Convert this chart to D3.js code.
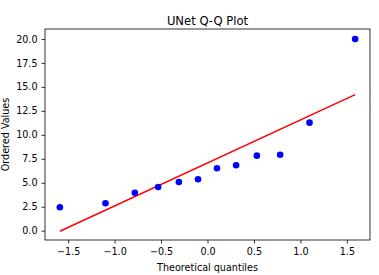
<!DOCTYPE html>
<html>
<head>
<meta charset="utf-8">
<script src="https://cdn.jsdelivr.net/npm/d3@7"></script>
<style>
    body { margin: 0; background: #fff; }
    svg { display: block; font-family: "DejaVu Sans", sans-serif; }
</style>
</head>
<body>
<div id="chart"></div>
<script>
// theoretical quantiles (x) and ordered values (y)
const quantiles = [-1.589, -1.098, -0.782, -0.531, -0.308, -0.102, 0.102, 0.308, 0.531, 0.782, 1.098, 1.589];
const ordered = [2.44, 2.86, 3.96, 4.56, 5.08, 5.36, 6.51, 6.82, 7.83, 7.93, 11.27, 20.0];
// least squares line end points
const fitX = [-1.589, 1.589];
const fitY = [-0.06, 14.19];
const xTicks = [-1.5, -1.0, -0.5, 0.0, 0.5, 1.0, 1.5];
const yTicks = [0.0, 2.5, 5.0, 7.5, 10.0, 12.5, 15.0, 17.5, 20.0];

const width = 379, height = 275;
const box = {left: 45, right: 370, top: 29, bottom: 240};

const svg = d3.select("#chart").append("svg")
    .attr("width", width)
    .attr("height", height);

const x = d3.scaleLinear().domain([-1.749, 1.749]).range([box.left, box.right]);
const y = d3.scaleLinear().domain([-0.97, 21.04]).range([box.bottom, box.top]);

const fmt = d3.format(".1f");

// axes
let xAxis = svg.append("g")
    .attr("transform", "translate(0," + box.bottom + ")")
    .call(d3.axisBottom(x).tickValues(xTicks).tickFormat(fmt).tickSize(3.5).tickPadding(4.8));
let yAxis = svg.append("g")
    .attr("transform", "translate(" + box.left + ",0)")
    .call(d3.axisLeft(y).tickValues(yTicks).tickFormat(fmt).tickSize(3.5).tickPadding(4));

[xAxis, yAxis].forEach(a => {
    a.select(".domain").remove();
    a.selectAll(".tick line").attr("stroke", "#000").attr("stroke-width", 0.8);
    a.selectAll(".tick text")
        .attr("fill", "#000")
        .style("font-size", "9.6px")
        .style("font-family", "DejaVu Sans");
});

// fit line
svg.append("path")
    .datum(d3.zip(fitX, fitY))
    .attr("d", d3.line().x(d => x(d[0])).y(d => y(d[1])))
    .attr("stroke", "red")
    .attr("stroke-width", 1.5)
    .attr("fill", "none");

// points
svg.append("g")
    .selectAll("circle")
    .data(d3.zip(quantiles, ordered))
    .join("circle")
    .attr("cx", d => x(d[0]))
    .attr("cy", d => y(d[1]))
    .attr("r", 3.3)
    .attr("fill", "blue");

// frame
svg.append("rect")
    .attr("x", box.left)
    .attr("y", box.top)
    .attr("width", box.right - box.left)
    .attr("height", box.bottom - box.top)
    .attr("fill", "none")
    .attr("stroke", "#000")
    .attr("stroke-width", 0.8);

// titles
svg.append("text")
    .attr("x", (box.left + box.right) / 2)
    .attr("y", 24.5)
    .attr("text-anchor", "middle")
    .style("font-size", "11.6px")
    .text("UNet Q-Q Plot");

svg.append("text")
    .attr("x", (box.left + box.right) / 2)
    .attr("y", 270.5)
    .attr("text-anchor", "middle")
    .style("font-size", "9.6px")
    .text("Theoretical quantiles");

svg.append("text")
    .attr("transform", "translate(9," + (box.top + box.bottom) / 2 + ") rotate(-90)")
    .attr("text-anchor", "middle")
    .style("font-size", "9.6px")
    .text("Ordered Values");
</script>
</body>
</html>
